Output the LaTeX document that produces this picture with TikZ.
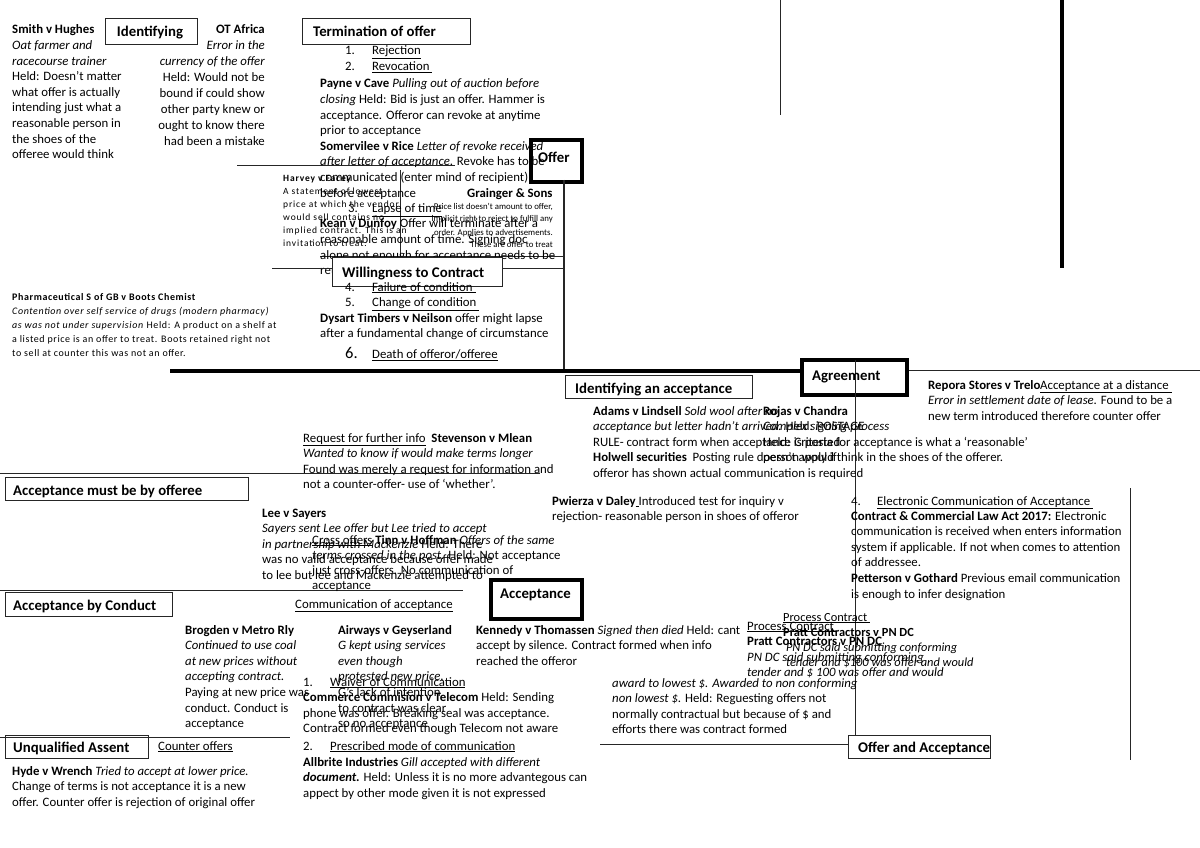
\documentclass[tikz,border=0pt]{standalone}
\usepackage{fontspec}
\setmainfont{Carlito}
\newcommand\undl[1]{\underline{#1}}
\newcommand\blkL[1]{\begin{tabular}[t]{@{}l@{}}#1\end{tabular}}
\newcommand\blkR[1]{\begin{tabular}[t]{@{}r@{}}#1\end{tabular}}
\tikzset{
  txt/.style={anchor=base west, inner sep=0, font=\fontsize{12.8}{15.6}\selectfont},
  txtr/.style={anchor=base east, inner sep=0, font=\fontsize{12.8}{15.9}\selectfont},
  sm/.style={anchor=base west, inner sep=0, font=\fontsize{9.5}{13}\selectfont\addfontfeature{LetterSpace=9}},
  smr/.style={anchor=base east, inner sep=0, font=\fontsize{8.8}{13}\selectfont},
  ph/.style={anchor=base west, inner sep=0, font=\fontsize{10}{14}\selectfont\addfontfeature{LetterSpace=6}},
  head/.style={anchor=base west, inner sep=0, font=\bfseries\fontsize{14.8}{17}\selectfont},
  hbox/.style={draw=black!85, line width=1, inner sep=0, anchor=north west},
  tbox/.style={draw=black, line width=4, inner sep=0, anchor=north west},
  ln/.style={draw=black!85, line width=1},
  thk/.style={draw=black, line width=4}
}
\begin{document}
\begin{tikzpicture}[x=1pt,y=-1pt]
\useasboundingbox[fill=white] (0,0) rectangle (1200,848);

% ---------- boxes ----------
\node[hbox, minimum width=92, minimum height=26] (ident) at (105,18) {};
\node[hbox, minimum width=168, minimum height=26] (term) at (302,18) {};
\node[tbox, minimum width=51, minimum height=42] (offer) at (529,138) {};
\node[tbox, minimum width=105, minimum height=35] (agree) at (800,358) {};
\node[hbox, minimum width=187, minimum height=23] (idacc) at (565,375) {};
\node[hbox, minimum width=243, minimum height=23] (mustoff) at (5,477) {};
\node[hbox, minimum width=167, minimum height=24] (conduct) at (5,592) {};
\node[tbox, minimum width=91, minimum height=39] (accept) at (489,578) {};
\node[hbox, minimum width=143, minimum height=23] (unq) at (5,735) {};
\node[hbox, minimum width=142, minimum height=23] (oa) at (848,735) {};

% ---------- lines ----------
\coordinate (a1) at (780,0); \coordinate (a2) at (780,115);
\draw[ln] (a1) -- (a2);
\coordinate (b1) at (1062,0); \coordinate (b2) at (1062,268);
\draw[draw=black, line width=3.5] (b1) -- (b2);
\coordinate (c1) at (237,166); \coordinate (c2) at (455,166);
\draw[ln] (c1) -- (c2);
\coordinate (d1) at (400,170); \coordinate (d2) at (400,257);
\draw[ln] (d1) -- (d2);
\coordinate (s1) at (320,256); \coordinate (s2) at (564,256);
\draw[ln] (s1) -- (s2);
\coordinate (f1) at (564,180); \coordinate (f2) at (564,371);
\draw[ln, line width=1.3] (f1) -- (f2);
\coordinate (mL) at (170,371);
\draw[thk] (mL) -- (agree.west |- mL);
\coordinate (mR) at (1200,370);
\draw[ln] (agree.east |- mR) -- (mR);
\coordinate (g1) at (855,360);
\draw[ln] (g1) -- (g1 |- oa.north);
\coordinate (h1) at (0,473); \coordinate (h2) at (540,473);
\draw[ln] (h1) -- (h2);
\coordinate (i1) at (1130,488); \coordinate (i2) at (1130,760);
\draw[ln] (i1) -- (i2);
\coordinate (j1) at (0,590); \coordinate (j2) at (463,590);
\draw[ln] (j1) -- (j2);
\coordinate (k1) at (0,737); \coordinate (k2) at (290,737);
\draw[ln] (k1) -- (k2);
\coordinate (l1) at (600,744);
\draw[ln] (l1) -- (oa.west |- l1);

% ---------- headings ----------
\node[head, anchor=base] (identT) at (150,37) {Identifying};
\node[head] (termT) at (313,37) {Termination of offer};
\node[head] (offerT) at (538,163) {Offer};
\node[head] (agreeT) at (812,380) {Agreement};
\node[head] (idaccT) at (575,393) {Identifying an acceptance};
\node[head] (mustoffT) at (13,495) {Acceptance must be by offeree};
\node[head] (conductT) at (13,610) {Acceptance by Conduct};
\node[head] (acceptT) at (500,598) {Acceptance};
\node[head] (unqT) at (13,752) {Unqualified Assent};
\node[head] (oaT) at (858,752) {Offer and Acceptance};

% ---------- top-left ----------
\node[txt] (smith) at (12,34) {\blkL{\textbf{Smith v Hughes}\\\textit{Oat farmer and}\\\textit{racecourse trainer}\\Held: Doesn’t matter\\what offer is actually\\intending just what a\\reasonable person in\\the shoes of the\\offeree would think}};
\node[txtr] (ota) at (265,34) {\blkR{\textbf{OT Africa}\\\textit{Error in the}\\\textit{currency of the offer}\\Held: Would not be\\bound if could show\\other party knew or\\ought to know there\\had been a mistake}};

% ---------- termination column ----------
\node[txt] (n1) at (345,55) {1.};
\node[txt] (r1) at (372,55) {\undl{Rejection}};
\node[txt] (n2) at (345,71) {2.};
\node[txt] (r2) at (372,71) {\undl{Revocation }};
\node[txt] (payne) at (320,88) {\blkL{\textbf{Payne v Cave} \textit{Pulling out of auction before}\\\textit{closing} Held: Bid is just an offer. Hammer is\\acceptance. Offeror can revoke at anytime\\prior to acceptance\\\textbf{Somervilee v Rice} \textit{Letter of revoke received}\\\textit{after letter of acceptance}. Revoke has to be\\communicated (enter mind of recipient)\\before acceptance}};
\node[txt] (n3) at (348,212.4) {3.};
\node[txt] (r3) at (372,212.4) {\undl{Lapse of time}};
\node[txt] (kean) at (320,227.9) {\blkL{\textbf{Kean v Dunfoy} Offer will terminate after a\\reasonable amount of time. Signing doc\\alone not enough for acceptance needs to be\\returned}};
\node[sm] (harvey) at (283,182) {\blkL{\textbf{Harvey v Facey}\\A statement of lowest\\price at which the vendor\\would sell contains no\\implied contract. This is an\\invitation to treat.}};
\node[txt, font=\bfseries\fontsize{12.8}{15.6}\selectfont] (grain) at (467,197) {Grainger \& Sons};
\node[smr] (grain2) at (553,209) {\blkR{Price list doesn’t amount to offer,\\implicit right to reject to fulfill any\\order. Applies to advertisements.\\These are offer to treat}};
\coordinate (e1) at (272,268); \coordinate (e2) at (564,268);
\node[hbox, fill=white, minimum width=170, minimum height=29] (will) at (332,257) {};
\draw[ln] (e1) -- (will.west |- e1);
\draw[ln] (will.east |- e2) -- (e2);
\node[head] (willT) at (342,277) {Willingness to Contract};
\node[txt] (n4) at (345,291) {4.};
\node[txt] (r4) at (372,291) {\undl{Failure of condition }};
\node[txt] (n5) at (345,306.5) {5.};
\node[txt] (r5) at (372,306.5) {\undl{Change of condition }};
\node[txt] (dysart) at (320,322) {\blkL{\textbf{Dysart Timbers v Neilson} offer might lapse\\after a fundamental change of circumstance}};
\node[txt, font=\fontsize{16.5}{18}\selectfont] (n6) at (345,358) {6.};
\node[txt] (r6) at (372,358) {\undl{Death of offeror/offeree}};

% ---------- Boots ----------
\node[ph] (boots) at (12,300) {\blkL{\textbf{Pharmaceutical S of GB v Boots Chemist}\\\textit{Contention over self service of drugs (modern pharmacy)}\\\textit{as was not under supervision} Held: A product on a shelf at\\a listed price is an offer to treat. Boots retained right not\\to sell at counter this was not an offer.}};

% ---------- identifying acceptance ----------
\node[txt] (adams) at (593,415) {\blkL{\textbf{Adams v Lindsell} \textit{Sold wool after no}\\\textit{acceptance but letter hadn’t arrived.} Held: POSTAGE\\RULE- contract form when acceptance is posted\\\textbf{Holwell securities}\ \ Posting rule doesn’t apply if\\offeror has shown actual communication is required}};
\node[txt] (chandra) at (763,415) {\blkL{\textbf{Rojas v Chandra}\\\textit{Complex signing process}\\Held: Criteria for acceptance is what a ‘reasonable’\\person would think in the shoes of the offerer.}};
\node[txt] (repora) at (928,389) {\blkL{\textbf{Repora Stores v Trelo}\\\textit{Error in settlement date of lease.} Found to be a\\new term introduced therefore counter offer}};
\node[txt] (dist) at (1040,389) {\undl{Acceptance at a distance }};

% ---------- middle ----------
\node[txt] (req) at (303,442) {\blkL{\undl{Request for further info} \ \textbf{Stevenson v Mlean}\\\textit{Wanted to know if would make terms longer}\\Found was merely a request for information and\\not a counter-offer- use of ‘whether’.}};
\node[txt] (pwi) at (552,505) {\blkL{\textbf{Pwierza v Daley}\undl{ }Introduced test for inquiry v\\rejection- reasonable person in shoes of offeror}};
\node[txt] (lee) at (262,517) {\blkL{\textbf{Lee v Sayers}\\\textit{Sayers sent Lee offer but Lee tried to accept}\\\textit{in partnership with Mackenzie} Held: There\\was no valid acceptance because offer made\\to lee but lee and Mackenzie attempted to}};
\node[txt, font=\fontsize{12.8}{15.2}\selectfont] (cross) at (312,544) {\blkL{\undl{Cross offers} \textbf{Tinn v Hoffman} \textit{Offers of the same}\\\textit{terms crossed in the post.} Held: Not acceptance\\just cross-offers. No communication of\\acceptance}};
\node[txt] (comm) at (295,608) {\undl{Communication of acceptance}};

% ---------- electronic ----------
\node[txt] (n7) at (851,505) {4.};
\node[txt] (elec) at (877,505) {\undl{Electronic Communication of Acceptance }};
\node[txt] (cca) at (851,520) {\blkL{\textbf{Contract \& Commercial Law Act 2017:} Electronic\\communication is received when enters information\\system if applicable. If not when comes to attention\\of addressee.\\\textbf{Petterson v Gothard} Previous email communication\\is enough to infer designation}};

% ---------- conduct ----------
\node[txt] (brog) at (185,634) {\blkL{\textbf{Brogden v Metro Rly}\\\textit{Continued to use coal}\\\textit{at new prices without}\\\textit{accepting contract.}\\Paying at new price was\\conduct. Conduct is\\acceptance}};
\node[txt] (air) at (338,634) {\blkL{\textbf{Airways v Geyserland}\\\textit{G kept using services}\\\textit{even though}\\\textit{protested new price.}\\G’s lack of intention\\to contract was clear\\so no acceptance}};
\node[txt] (kenn) at (476,634) {\blkL{\textbf{Kennedy v Thomassen} \textit{Signed then died} Held: cant\\accept by silence. Contract formed when info\\reached the offeror}};
\node[txt] (n8) at (303,686) {1.};
\node[txt] (waiv) at (330,686) {\undl{Waiver of Communication}};
\node[txt] (telec) at (303,701.5) {\blkL{\textbf{Commerce Commision v Telecom} Held: Sending\\phone was offer. Breaking seal was acceptance.\\Contract formed even though Telecom not aware}};
\node[txt] (n9) at (303,750) {2.};
\node[txt] (presc) at (330,750) {\undl{Prescribed mode of communication}};
\node[txt] (allb) at (303,766) {\blkL{\textbf{Allbrite Industries} \textit{Gill accepted with different}\\\textbf{\textit{document.}} Held: Unless it is no more advantegous can\\appect by other mode given it is not expressed}};

% ---------- counter offers ----------
\node[txt] (cntr) at (158,750) {\undl{Counter offers}};
\node[txt] (hyde) at (12,775) {\blkL{\textbf{Hyde v Wrench} \textit{Tried to accept at lower price.}\\Change of terms is not acceptance it is a new\\offer. Counter offer is rejection of original offer}};

% ---------- process contract ----------
\node[txt, font=\fontsize{12.4}{15}\selectfont] (procA) at (783,621) {\blkL{\undl{Process Contract }\\\textbf{Pratt Contractors v PN DC}\\\ \textit{PN DC said submitting conforming}\\\ \textit{tender and \$100 was offer and would}}};
\node[txt] (procB) at (747,630) {\blkL{\undl{Process Contract }\\\textbf{Pratt Contractors v PN DC}\\\textit{PN DC said submitting conforming}\\\textit{tender and \$ 100 was offer and would}}};
\node[txt] (award) at (612,687) {\blkL{\textit{award to lowest \$. Awarded to non conforming}\\\textit{non lowest \$.} Held: Reguesting offers not\\normally contractual but because of \$ and\\efforts there was contract formed}};
\end{tikzpicture}
\end{document}
